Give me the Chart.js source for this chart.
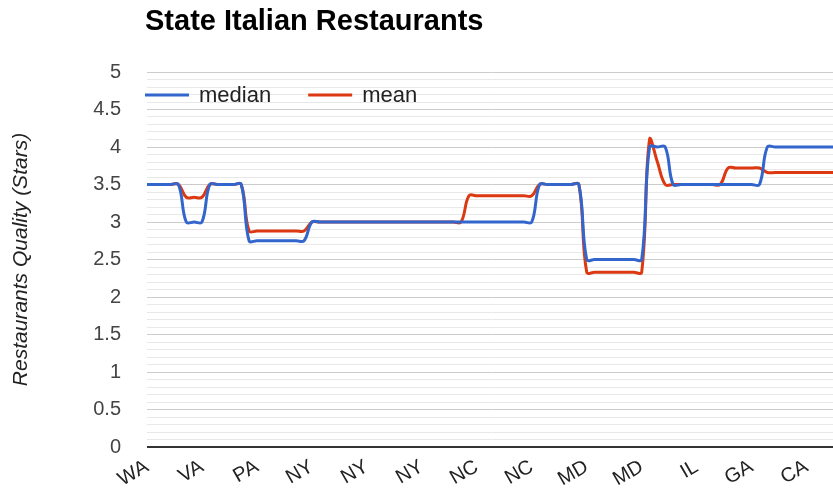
<!DOCTYPE html>
<html>
<head>
<meta charset="utf-8">
<script src="https://cdn.jsdelivr.net/npm/chart.js@4.4.0/dist/chart.umd.min.js"></script>
<style>
  html, body { margin: 0; padding: 0; background: #fff; overflow: hidden; }
  canvas { display: block; }
</style>
</head>
<body>
<canvas id="myChart" width="840" height="501"></canvas>
<script>
// chart data -------------------------------------------------------------
var chartTitle = 'State Italian Restaurants';
var yAxisTitle = 'Restaurants Quality (Stars)';

// state names shown on the axis (every 7th restaurant)
var stateTicks = ['WA', 'VA', 'PA', 'NY', 'NY', 'NY', 'NC', 'NC', 'MD', 'MD', 'IL', 'GA', 'CA'];
var labelEvery = 7;

var median = [
  3.5, 3.5, 3.5, 3.5, 3.5, 3.0, 3.0, 3.0, 3.5, 3.5,
  3.5, 3.5, 3.5, 2.75, 2.75, 2.75, 2.75, 2.75, 2.75, 2.75,
  2.75, 3.0, 3.0, 3.0, 3.0, 3.0, 3.0, 3.0, 3.0, 3.0,
  3.0, 3.0, 3.0, 3.0, 3.0, 3.0, 3.0, 3.0, 3.0, 3.0,
  3.0, 3.0, 3.0, 3.0, 3.0, 3.0, 3.0, 3.0, 3.0, 3.0,
  3.5, 3.5, 3.5, 3.5, 3.5, 3.5, 2.5, 2.5, 2.5, 2.5,
  2.5, 2.5, 2.5, 2.5, 4.0, 4.0, 4.0, 3.5, 3.5, 3.5,
  3.5, 3.5, 3.5, 3.5, 3.5, 3.5, 3.5, 3.5, 3.5, 4.0,
  4.0, 4.0, 4.0, 4.0, 4.0, 4.0, 4.0, 4.0, 4.0
];

var mean = [
  3.5, 3.5, 3.5, 3.5, 3.5, 3.33, 3.33, 3.33, 3.5, 3.5,
  3.5, 3.5, 3.5, 2.88, 2.88, 2.88, 2.88, 2.88, 2.88, 2.88,
  2.88, 3.0, 3.0, 3.0, 3.0, 3.0, 3.0, 3.0, 3.0, 3.0,
  3.0, 3.0, 3.0, 3.0, 3.0, 3.0, 3.0, 3.0, 3.0, 3.0,
  3.0, 3.35, 3.35, 3.35, 3.35, 3.35, 3.35, 3.35, 3.35, 3.35,
  3.5, 3.5, 3.5, 3.5, 3.5, 3.5, 2.33, 2.33, 2.33, 2.33,
  2.33, 2.33, 2.33, 2.33, 4.1, 3.8, 3.5, 3.5, 3.5, 3.5,
  3.5, 3.5, 3.5, 3.5, 3.72, 3.72, 3.72, 3.72, 3.72, 3.66,
  3.66, 3.66, 3.66, 3.66, 3.66, 3.66, 3.66, 3.66, 3.66
];

// one label per point, state name only where the axis shows it
var labels = median.map(function (v, i) {
  return (i % labelEvery === 0 && stateTicks[i / labelEvery]) ? stateTicks[i / labelEvery] : '';
});

var FONT = '"Liberation Sans", Arial, sans-serif';

// title + legend drawn inside the top of the chart like google charts does
var chartDecor = {
  id: 'chartDecor',
  afterDraw: function (chart) {
    var c = chart.ctx;
    c.save();
    c.fillStyle = '#000';
    c.font = 'bold 29px ' + FONT;
    c.textBaseline = 'alphabetic';
    c.textAlign = 'left';
    c.fillText(chartTitle, 145, 30);

    var x = 145, y = 95;
    c.font = '22px ' + FONT;
    c.textBaseline = 'middle';
    chart.data.datasets.forEach(function (ds) {
      c.strokeStyle = ds.borderColor;
      c.lineWidth = 3;
      c.beginPath();
      c.moveTo(x, y);
      c.lineTo(x + 44, y);
      c.stroke();
      c.fillStyle = '#222';
      c.fillText(ds.label, x + 54, y + 1);
      x += 54 + c.measureText(ds.label).width + 37;
    });
    c.restore();
  }
};

var ctx = document.getElementById('myChart').getContext('2d');
var chart = new Chart(ctx, {
  type: 'line',
  data: {
    labels: labels,
    datasets: [{
      label: 'median',
      data: median,
      borderColor: '#3366cc',
      backgroundColor: '#3366cc',
      borderWidth: 3,
      pointRadius: 0,
      tension: 0.4,
      fill: false
    }, {
      label: 'mean',
      data: mean,
      borderColor: '#dc3912',
      backgroundColor: '#dc3912',
      borderWidth: 3,
      pointRadius: 0,
      tension: 0.4,
      fill: false
    }]
  },
  options: {
    responsive: false,
    animation: false,
    layout: { padding: { top: 72, right: 2, left: 0, bottom: 0 } },
    plugins: {
      legend: { display: false },
      tooltip: { enabled: false },
      title: { display: false }
    },
    scales: {
      x: {
        grid: { display: false },
        border: { display: false },
        ticks: {
          autoSkip: false,
          minRotation: 30,
          maxRotation: 30,
          color: '#222',
          padding: 0,
          font: { family: FONT, size: 20 }
        },
        afterFit: function (s) {
          s.height = 54;
          s.paddingLeft = 0;
          s.paddingRight = 0;
        }
      },
      y: {
        min: 0,
        max: 5,
        border: { display: false },
        grid: {
          drawTicks: false,
          color: function (c) {
            var k = Math.round(c.tick.value * 10);
            if (k === 0) return '#333333';
            return k % 5 === 0 ? '#cccccc' : '#e8e8e8';
          },
          lineWidth: function (c) {
            return Math.round(c.tick.value * 10) === 0 ? 2 : 1;
          }
        },
        ticks: {
          stepSize: 0.1,
          maxTicksLimit: 100,
          autoSkip: false,
          padding: 26,
          color: '#444',
          font: { family: FONT, size: 20 },
          callback: function (v) {
            var k = Math.round(v * 10);
            return k % 5 === 0 ? String(k / 10) : '';
          }
        },
        title: {
          display: true,
          text: yAxisTitle,
          color: '#222',
          font: { family: FONT, size: 21, style: 'italic' },
          padding: { top: 9, bottom: 0 }
        },
        afterFit: function (s) { s.width = 147; }
      }
    }
  },
  plugins: [chartDecor]
});
</script>
</body>
</html>
